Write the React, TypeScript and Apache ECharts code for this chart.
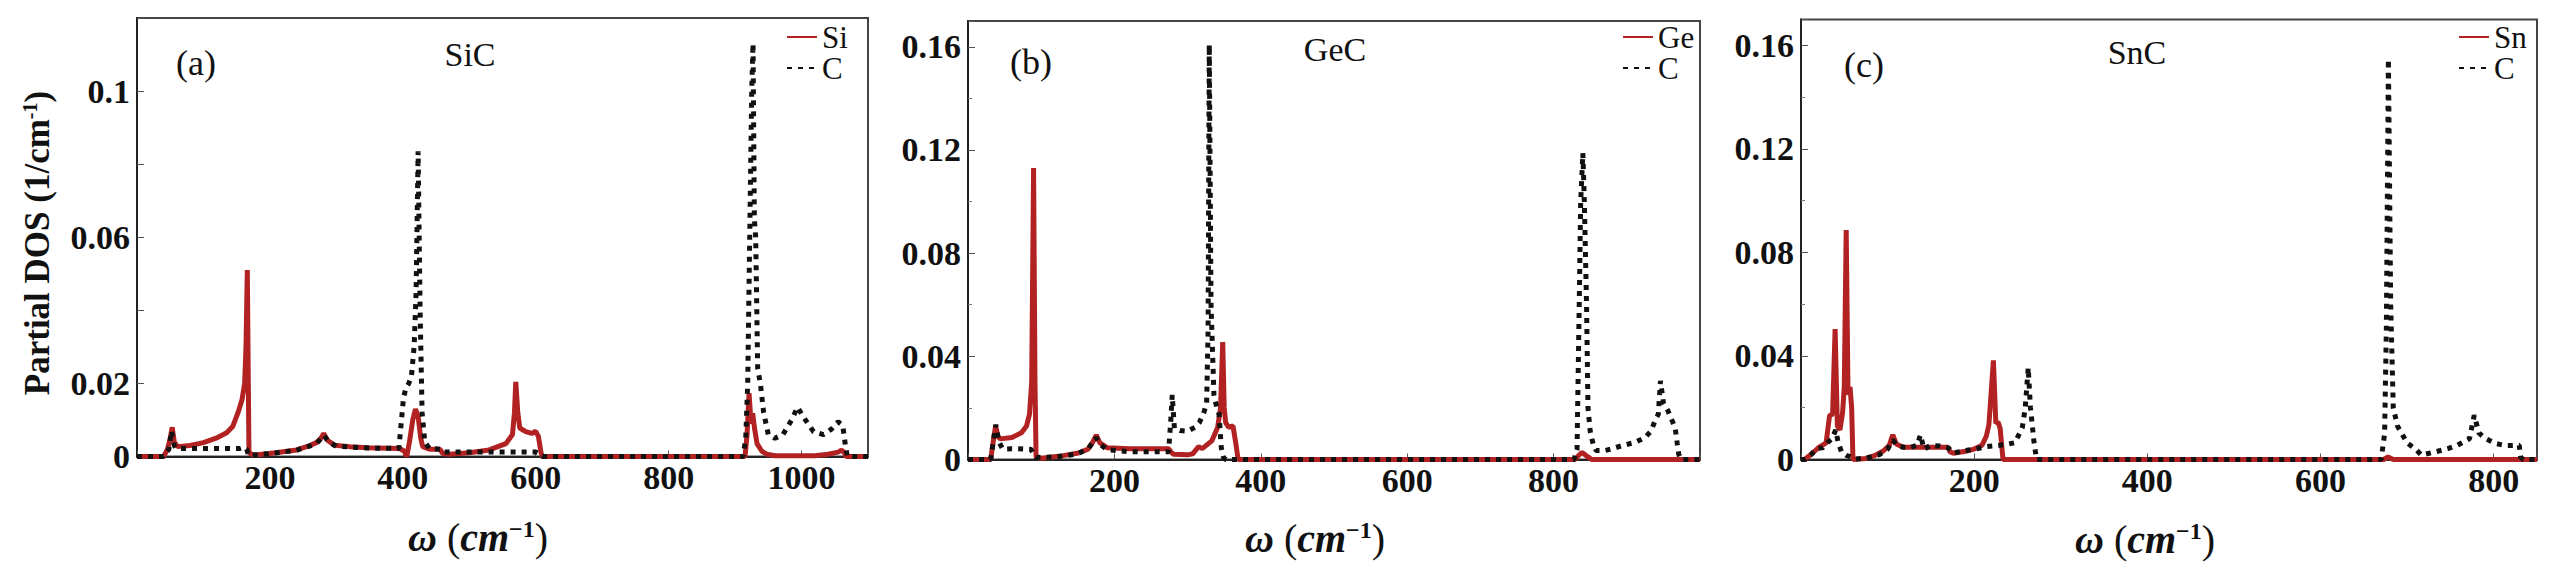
import React, { useEffect, useRef } from "react";
import * as echarts from "echarts";

// ---------- data (omega in cm^-1, partial DOS in 1/cm^-1) ----------
const sicSi: [number, number][] = [
  [0, 0], [40, 0], [46, 0.002], [50, 0.005], [53, 0.008], [56, 0.004], [61, 0.0027], [80, 0.003], [100, 0.0038],
  [119, 0.005], [135, 0.0065], [144, 0.0082], [152, 0.012], [158, 0.0155], [162, 0.02], [164, 0.03], [166, 0.051],
  [167.5, 0.02], [168.5, 0.001], [175, 0.0004], [200, 0.0008], [240, 0.0018], [260, 0.003], [270, 0.0038],
  [276, 0.0048], [281, 0.0063], [286, 0.0045], [297, 0.0031], [320, 0.0027], [347, 0.0024], [395, 0.0022],
  [402, 0.0015], [406, 0], [410, 0.004], [415, 0.01], [419, 0.013], [423, 0.011], [427, 0.005], [430, 0.0027],
  [440, 0.002], [456, 0.002], [460, 0.0008], [470, 0.0006], [500, 0.001], [530, 0.0018], [555, 0.0035],
  [565, 0.006], [568, 0.012], [570, 0.0204], [573, 0.012], [576, 0.0078], [585, 0.0068], [594, 0.0063],
  [600, 0.0069], [604, 0.0055], [608, 0.001], [610, 0], [915, 0], [918, 0.006], [921, 0.0173], [924, 0.009],
  [926.5, 0.0118], [929, 0.008], [933, 0.0035], [940, 0.0015], [948, 0.0006], [960, 0.0002], [1020, 0.0002],
  [1040, 0.0006], [1055, 0.0012], [1060, 0.0017], [1064, 0.0012], [1067, 0], [1100, 0],
];
const sicC: [number, number][] = [
  [0, 0], [40, 0], [48, 0.002], [52, 0.007], [56, 0.003], [60, 0.0022], [100, 0.0022], [140, 0.0022],
  [155, 0.0022], [160, 0.0025], [165, 0.002], [168, 0.0003], [200, 0.0008], [240, 0.0017], [270, 0.0035],
  [281, 0.0058], [290, 0.0038], [300, 0.0028], [350, 0.0023], [394, 0.0022], [397, 0.008], [401, 0.016],
  [405, 0.019], [409, 0.02], [413, 0.022], [417, 0.03], [420, 0.045], [423, 0.0835], [426, 0.04], [429, 0.012],
  [433, 0.004], [440, 0.0022], [456, 0.002], [460, 0.0012], [600, 0.0012], [606, 0.0008], [610, 0], [912, 0],
  [916, 0.005], [919, 0.02], [922, 0.06], [925, 0.1], [927, 0.113], [929, 0.065], [931, 0.06], [934, 0.024],
  [938, 0.02], [943, 0.012], [950, 0.006], [960, 0.005], [972, 0.006], [985, 0.01], [994, 0.0135],
  [1004, 0.0105], [1018, 0.0068], [1033, 0.006], [1045, 0.0075], [1055, 0.0095], [1062, 0.0085],
  [1066, 0.003], [1069, 0], [1100, 0],
];
const gecGe: [number, number][] = [
  [0, 0], [31, 0], [34, 0.006], [37.7, 0.013], [41, 0.009], [44, 0.008], [60, 0.0085], [73, 0.0104], [80, 0.013],
  [84, 0.0175], [87, 0.03], [89.6, 0.113], [91.5, 0.03], [93, 0.001], [100, 0.0005], [130, 0.0015], [151, 0.0025],
  [164, 0.004], [170, 0.0065], [175.3, 0.0095], [180, 0.0065], [190, 0.0046], [220, 0.0042], [274, 0.0042],
  [277, 0.003], [281, 0.002], [300, 0.0018], [307, 0.0022], [315, 0.005], [320, 0.0042], [333, 0.0072],
  [341, 0.0124], [345, 0.02], [348, 0.0455], [350, 0.02], [352, 0.0143], [356, 0.0125], [362, 0.013],
  [366, 0.006], [369, 0], [829, 0], [835, 0.0018], [839, 0.0027], [846, 0.0012], [852, 0], [1000, 0],
];
const gecC: [number, number][] = [
  [0, 0], [31, 0], [34, 0.006], [38, 0.0135], [42, 0.007], [47.5, 0.004], [60, 0.0042], [86, 0.004], [90, 0.002],
  [93, 0.0008], [120, 0.001], [150, 0.0022], [165, 0.0045], [175, 0.0085], [180, 0.006], [190, 0.0038],
  [220, 0.003], [274, 0.003], [277, 0.015], [279, 0.025], [282, 0.012], [290, 0.0112], [300, 0.011],
  [310, 0.0125], [316, 0.0143], [322, 0.018], [326, 0.022], [328, 0.05], [329.6, 0.1608], [332, 0.06],
  [336, 0.025], [340, 0.02], [343, 0.0175], [346, 0.0046], [349, 0.0008], [352, 0], [828, 0], [832, 0.004],
  [835, 0.06], [837, 0.1], [840, 0.1188], [842, 0.1], [845, 0.06], [847, 0.02], [850, 0.011], [854, 0.006],
  [858, 0.0035], [870, 0.0035], [878, 0.004], [895, 0.0055], [911, 0.0066], [925, 0.0085], [933, 0.011],
  [940, 0.016], [943, 0.0175], [946, 0.0305], [950, 0.022], [956, 0.019], [962, 0.015], [966, 0.0124],
  [969, 0.006], [971, 0.002], [974, 0], [1000, 0],
];
const sncSn: [number, number][] = [
  [0, 0], [4, 0], [10, 0.0015], [15, 0.003], [20.6, 0.0047], [29, 0.0064], [33, 0.017], [36.5, 0.0175],
  [39.4, 0.0504], [42, 0.013], [45, 0.0114], [48, 0.018], [50, 0.028], [52.2, 0.0887], [54.3, 0.025],
  [56.6, 0.028], [58.5, 0.02], [60, 0], [75, 0.0004], [85, 0.0015], [95, 0.0033], [102, 0.0055], [106, 0.0095],
  [110, 0.006], [115, 0.0052], [120, 0.0047], [169.8, 0.0047], [172, 0.003], [176, 0.0024], [190, 0.0032],
  [198, 0.0038], [209, 0.0055], [214, 0.009], [217, 0.0134], [222.2, 0.0383], [225, 0.014], [227.6, 0.0145],
  [230, 0.012], [233.3, 0], [673, 0], [678, 0.001], [684, 0], [850, 0],
];
const sncC: [number, number][] = [
  [0, 0], [5, 0], [12, 0.002], [17.7, 0.0042], [25, 0.0045], [31, 0.0067], [36, 0.008], [40, 0.0114],
  [43, 0.0065], [47, 0.0028], [53, 0.0015], [58, 0.001], [62, 0.0002], [75, 0.0005], [90, 0.0018], [100, 0.004],
  [106, 0.0075], [112, 0.005], [125, 0.0045], [134, 0.0055], [138, 0.0095], [142, 0.004], [150, 0.0055],
  [160, 0.0052], [170, 0.0045], [176, 0.0025], [190, 0.0035], [200, 0.004], [215, 0.005], [230, 0.0055],
  [240, 0.006], [247, 0.0065], [255.5, 0.0122], [259, 0.02], [262.4, 0.0355], [265, 0.02], [269, 0.007],
  [272, 0], [670, 0], [674, 0.01], [676, 0.05], [678.4, 0.1547], [681, 0.06], [684, 0.02], [689, 0.0128],
  [700, 0.0064], [711, 0.0036], [716.6, 0.0017], [733, 0.003], [747, 0.0042], [758, 0.0055], [772, 0.008],
  [777.5, 0.0171], [783, 0.0102], [791, 0.008], [802, 0.0062], [813, 0.0054], [829.5, 0.0055], [831, 0.001],
  [834, 0], [850, 0],
];

const panelLetters = ["(a)", "(b)", "(c)"];
const panelTitles = ["SiC", "GeC", "SnC"];
const metalNames = ["Si", "Ge", "Sn"];
const xMaxes = [1100, 1000, 850];
const yMaxes = [0.12, 0.17, 0.17];
const yIntervals = [0.02, 0.04, 0.04];
const yTickLabels = [
  ["0", "0.02", "0.06", "0.1"],
  ["0", "0.04", "0.08", "0.12", "0.16"],
  ["0", "0.04", "0.08", "0.12", "0.16"],
];
const xTickLabels = ["200", "400", "600", "800", "1000"];

const FONT = "'Liberation Serif', 'Times New Roman', serif";
const RED = "#b22222";
const BLACK = "#111111";

const gridBoxes = [
  { left: 137, top: 18, width: 731, height: 438.5 },
  { left: 968, top: 21, width: 732, height: 438.5 },
  { left: 1801, top: 19.5, width: 736, height: 440 },
];
const letterPos = [[196, 63], [1031, 62], [1864, 65]];
const titlePos = [[470, 54], [1335, 49], [2137, 52]];
const xNamePos = [[478, 537], [1315, 538], [2145, 539]];
const legendLeft = [786, 1622, 2458];

export default function App() {
  const ref = useRef<HTMLDivElement>(null);
  useEffect(() => {
    if (!ref.current) return;
    const chart = echarts.init(ref.current, undefined, { renderer: "svg" });
    const metalData = [sicSi, gecGe, sncSn];
    const carbonData = [sicC, gecC, sncC];

    const grid = gridBoxes.map((g) => ({
      ...g,
      show: true,
      borderColor: "#444",
      borderWidth: 2,
      backgroundColor: "transparent",
    }));

    const xAxis = xMaxes.map((mx, i) => ({
      type: "value",
      gridIndex: i,
      min: 0,
      max: mx,
      interval: 200,
      axisLine: { show: true, lineStyle: { color: "#222", width: 2 } },
      axisTick: { show: true, inside: true, length: 6, lineStyle: { color: "#555" } },
      splitLine: { show: false },
      axisLabel: {
        fontSize: 34,
        fontWeight: "bold",
        fontFamily: FONT,
        color: BLACK,
        margin: 4,
        formatter: (v: number) => {
          const s = String(Math.round(v));
          return v < mx && xTickLabels.includes(s) ? s : "";
        },
      },
    }));

    const yAxis = yMaxes.map((mx, i) => ({
      type: "value",
      gridIndex: i,
      min: 0,
      max: mx,
      interval: yIntervals[i],
      axisLine: { show: true, lineStyle: { color: "#222", width: 2 } },
      axisTick: { show: true, inside: true, length: 7, lineStyle: { color: "#555" } },
      minorTick: { show: i > 0, splitNumber: 2, length: 4, lineStyle: { color: "#777" } },
      splitLine: { show: false },
      axisLabel: {
        fontSize: 34,
        fontWeight: "bold",
        fontFamily: FONT,
        color: BLACK,
        margin: 7,
        formatter: (v: number) => {
          const s = String(Math.round(v * 100) / 100);
          return yTickLabels[i].includes(s) ? s : "";
        },
      },
    }));

    const series: any[] = [];
    for (let i = 0; i < 3; i++) {
      series.push({
        type: "line",
        name: metalNames[i],
        xAxisIndex: i,
        yAxisIndex: i,
        data: metalData[i],
        symbol: "none",
        showSymbol: false,
        lineStyle: { color: RED, width: 5 },
        itemStyle: { color: RED },
        z: 2,
      });
      series.push({
        type: "line",
        name: "C",
        xAxisIndex: i,
        yAxisIndex: i,
        data: carbonData[i],
        symbol: "none",
        showSymbol: false,
        lineStyle: { color: BLACK, width: 5, type: [5, 6] },
        itemStyle: { color: BLACK },
        z: 3,
      });
    }

    const legend = legendLeft.map((l, i) => ({
      data: [metalNames[i], "C"],
      left: l,
      top: 21.5,
      orient: "vertical",
      padding: 0,
      itemGap: 0,
      itemWidth: 30,
      itemHeight: 14,
      itemStyle: { opacity: 0 },
      textStyle: { fontSize: 31, fontFamily: FONT, color: BLACK, lineHeight: 31 },
    }));

    const graphic: any[] = [];
    for (let i = 0; i < 3; i++) {
      graphic.push({
        type: "text",
        x: letterPos[i][0],
        y: letterPos[i][1],
        style: {
          text: panelLetters[i],
          font: `36px ${FONT}`,
          fill: BLACK,
          align: "center",
          verticalAlign: "middle",
        },
      });
      graphic.push({
        type: "text",
        x: titlePos[i][0],
        y: titlePos[i][1],
        style: {
          text: panelTitles[i],
          font: `34px ${FONT}`,
          fill: BLACK,
          align: "center",
          verticalAlign: "middle",
        },
      });
      graphic.push({
        type: "text",
        x: xNamePos[i][0],
        y: xNamePos[i][1],
        style: {
          text: "{w|ω}{p|\u00a0(}{i|cm}{s|−1}{p|)}",
          align: "center",
          verticalAlign: "middle",
          fill: BLACK,
          rich: {
            w: { fontSize: 40, fontStyle: "italic", fontWeight: "bold", fontFamily: FONT, fill: BLACK },
            p: { fontSize: 40, fontFamily: FONT, fill: BLACK },
            i: { fontSize: 40, fontStyle: "italic", fontWeight: "bold", fontFamily: FONT, fill: BLACK },
            s: { fontSize: 24, fontWeight: "bold", fontFamily: FONT, fill: BLACK, verticalAlign: "top" },
          },
        },
      });
    }
    graphic.push({
      type: "text",
      x: 37,
      y: 243,
      rotation: Math.PI / 2,
      style: {
        text: "{b|Partial DOS (1/cm}{s|-1}{b|)}",
        align: "center",
        verticalAlign: "middle",
        fill: BLACK,
        rich: {
          b: { fontSize: 35, fontWeight: "bold", fontFamily: FONT, fill: BLACK },
          s: { fontSize: 20, fontWeight: "bold", fontFamily: FONT, fill: BLACK, verticalAlign: "top" },
        },
      },
    });

    chart.setOption({
      animation: false,
      backgroundColor: "#ffffff",
      grid,
      xAxis,
      yAxis,
      legend,
      series,
      graphic,
    });
    return () => chart.dispose();
  }, []);

  return (
    <div
      ref={ref}
      style={{ position: "absolute", left: 0, top: 0, width: 2565, height: 573 }}
    />
  );
}
